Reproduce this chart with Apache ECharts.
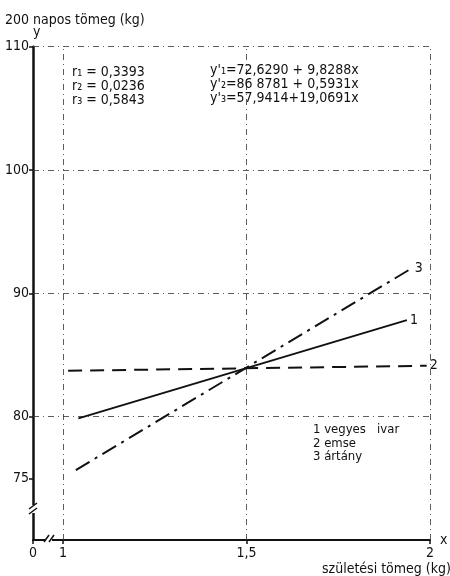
<!DOCTYPE html>
<html><head><meta charset="utf-8">
<script src="https://cdn.jsdelivr.net/npm/echarts@6.0.0/dist/echarts.min.js"></script>
<style>html,body{margin:0;padding:0;background:#fff}#c{width:450px;height:576px}</style>
</head><body><div id="c"></div>
<script>
// ---- data ----
const xTickValues = [1, 1.5, 2];
const xTickLabels = ['1', '1,5', '2'];
const xOrigin = 0.9183;          // axis start, labelled "0" (broken axis)
const yTickValues = [75, 80, 90, 100, 110];
const seriesNames = ['1', '2', '3'];
const line1 = [[1.042, 79.86], [1.937, 87.83]];   // 1 vegyes ivar
const line2 = [[1.014, 83.72], [1.991, 84.13]];   // 2 emse
const line3 = [[1.035, 75.67], [1.950, 92.03]];   // 3 ártány
const rTexts = ['r₁ = 0,3393', 'r₂ = 0,0236', 'r₃ = 0,5843'];
const eqTexts = ["y'₁=72,6290 + 9,8288x", "y'₂=86 8781 + 0,5931x", "y'₃=57,9414+19,0691x"];
const legendTexts = ['1 vegyes   ivar', '2 emse', '3 ártány'];

const FONT = "'Liberation Sans Narrow','DejaVu Sans Condensed',sans-serif";
const chart = echarts.init(document.getElementById('c'));

function txt(text, x, y, size, extra) {
  return Object.assign({type: 'text', x: x, y: y, z: 100,
    style: {text: text, font: (size || 13) + 'px ' + FONT, fill: '#111', textVerticalAlign: 'middle'}}, extra || {});
}
const graphics = [];
graphics.push(txt('200 napos tömeg (kg)', 5, 20, 14));
rTexts.forEach((t, i) => graphics.push(txt(t, 72, 72 + i * 14, 14)));
eqTexts.forEach((t, i) => graphics.push(txt(t, 210, 70 + i * 14, 14)));
legendTexts.forEach((t, i) => graphics.push(txt(t, 313, 430 + i * 13.5, 13)));
graphics.push(txt('születési tömeg (kg)', 322, 569, 14));
// axis breaks
graphics.push({type: 'rect', z: 90, shape: {x: 29, y: 505, width: 8, height: 8}, style: {fill: '#fff'}});
graphics.push({type: 'line', z: 91, shape: {x1: 29, y1: 509, x2: 37, y2: 503}, style: {stroke: '#111', lineWidth: 1.5}});
graphics.push({type: 'line', z: 91, shape: {x1: 29, y1: 514, x2: 37, y2: 508}, style: {stroke: '#111', lineWidth: 1.5}});
graphics.push({type: 'rect', z: 90, shape: {x: 46, y: 536, width: 6, height: 8}, style: {fill: '#fff'}});
graphics.push({type: 'line', z: 91, shape: {x1: 44, y1: 542, x2: 49, y2: 535}, style: {stroke: '#111', lineWidth: 1.5}});
graphics.push({type: 'line', z: 91, shape: {x1: 49, y1: 542, x2: 54, y2: 535}, style: {stroke: '#111', lineWidth: 1.5}});

const gridStyle = {color: '#333', width: 0.8, type: [6, 4, 1, 4]};
const mk = {
  silent: true, symbol: 'none', label: {show: false},
  lineStyle: gridStyle,
  data: [
    {xAxis: xTickValues[0]}, {xAxis: xTickValues[1]}, {xAxis: xTickValues[2]},
    {yAxis: yTickValues[1]}, {yAxis: yTickValues[2]}, {yAxis: yTickValues[3]}, {yAxis: yTickValues[4]}
  ]
};

function lineSeries(name, data, type, idx) {
  return {
    name: name, type: 'line', data: data, symbol: 'none', silent: true,
    lineStyle: {color: '#111', width: 2, type: type},
    endLabel: {show: true, formatter: name, fontFamily: FONT, fontSize: 14, color: '#111', distance: 3},
    markLine: idx === 0 ? mk : undefined,
    z: 10
  };
}

chart.setOption({
  animation: false,
  backgroundColor: '#fff',
  grid: {left: 33, right: 20, top: 46.7, bottom: 36, containLabel: false, outerBoundsMode: 'none'},
  xAxis: {
    type: 'value', min: xOrigin, max: 2,
    name: 'x', nameLocation: 'end', nameGap: 6,
    nameTextStyle: {fontFamily: FONT, fontSize: 14, color: '#111', verticalAlign: 'middle', padding: [0, 0, 6, 0]},
    axisLine: {show: true, lineStyle: {color: '#111', width: 2}},
    axisTick: {show: true, inside: false, length: 4, lineStyle: {color: '#111', width: 1.5},
      customValues: [xOrigin].concat(xTickValues)},
    axisLabel: {fontFamily: FONT, fontSize: 14, color: '#111', margin: 6,
      customValues: [xOrigin].concat(xTickValues),
      formatter: v => { const i = xTickValues.indexOf(v); return i >= 0 ? xTickLabels[i] : '0'; }},
    splitLine: {show: false}
  },
  yAxis: {
    type: 'value', min: 70, max: 110,
    name: 'y', nameLocation: 'end', nameGap: 2,
    nameTextStyle: {fontFamily: FONT, fontSize: 14, color: '#111', align: 'left', padding: [0, 0, 0, 0]},
    axisLine: {show: true, lineStyle: {color: '#111', width: 2.5}},
    axisTick: {show: true, length: 4, lineStyle: {color: '#111', width: 1.5}, customValues: yTickValues},
    axisLabel: {fontFamily: FONT, fontSize: 14, color: '#111', margin: 4, customValues: yTickValues},
    splitLine: {show: false}
  },
  series: [
    lineSeries(seriesNames[0], line1, 'solid', 0),
    lineSeries(seriesNames[1], line2, [14, 8], 1),
    lineSeries(seriesNames[2], line3, [16, 6, 3, 6], 2)
  ],
  graphic: graphics
});
</script></body></html>
